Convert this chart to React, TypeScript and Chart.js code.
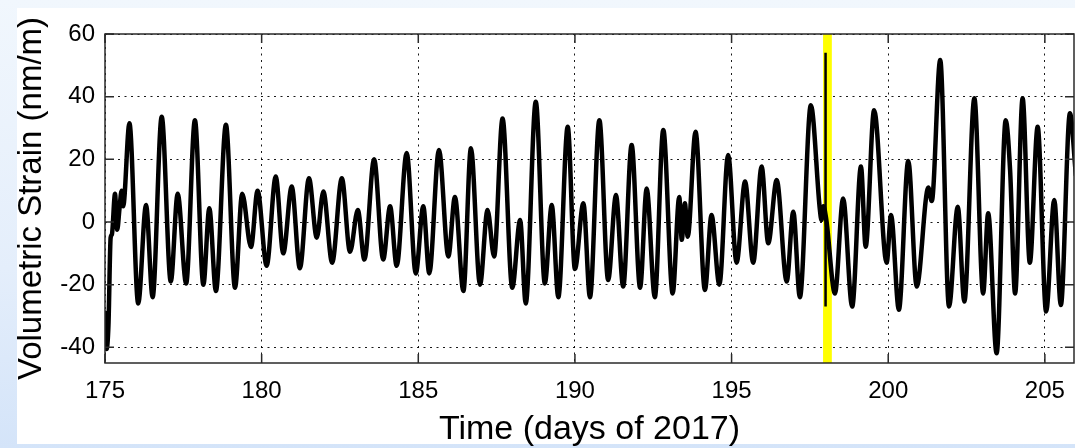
import React, { useEffect, useRef } from 'react';
import { Chart, registerables } from 'chart.js';

Chart.register(...registerables);

// ---- data ----
const days = [
  175.0, 175.05, 175.11, 175.18, 175.22, 175.32, 175.39, 175.46, 175.53, 175.58,
  175.78, 176.06, 176.31, 176.52, 176.81, 177.10, 177.32, 177.59, 177.87, 178.14,
  178.33, 178.54, 178.86, 179.15, 179.38, 179.66, 179.87, 180.16, 180.45, 180.69,
  180.96, 181.22, 181.51, 181.76, 181.97, 182.25, 182.56, 182.82, 183.07, 183.28,
  183.59, 183.88, 184.10, 184.31, 184.63, 184.92, 185.16, 185.35, 185.66, 185.96,
  186.17, 186.44, 186.68, 186.97, 187.21, 187.42, 187.69, 188.00, 188.25, 188.43,
  188.75, 189.04, 189.26, 189.47, 189.77, 190.00, 190.27, 190.48, 190.78, 191.06,
  191.31, 191.54, 191.81, 192.08, 192.29, 192.55, 192.82, 193.12, 193.33, 193.41,
  193.51, 193.60, 193.85, 194.15, 194.36, 194.61, 194.89, 195.16, 195.43, 195.69,
  195.96, 196.17, 196.44, 196.76, 196.97, 197.18, 197.53, 197.82, 197.87, 197.93,
  198.02, 198.30, 198.56, 198.85, 199.13, 199.28, 199.55, 199.95, 200.09, 200.34,
  200.64, 200.91, 201.28, 201.39, 201.66, 201.94, 202.22, 202.43, 202.75, 203.03,
  203.19, 203.46, 203.75, 203.89, 204.05, 204.29, 204.52, 204.77, 205.04, 205.30,
  205.51, 205.80, 205.99,
];

const strain = [
  -29, -40.5, -33, -5, -4, 9, -2.5, 4, 10, 5,
  31.5, -26, 5.4, -24, 33.6, -19, 9, -19.6, 32.5, -20,
  4.4, -22, 31, -21, 9, -8, 10, -14, 14.5, -10,
  11.3, -14.8, 14, -5, 9.7, -13, 14, -9.5, 3.8, -12,
  20, -12, 5, -14, 22, -16.4, 5, -16.4, 23, -11,
  8, -22, 23.5, -20, 3.8, -11, 33, -21, 0.6, -26,
  38.4, -19.6, 5.4, -24, 30.4, -15, 6, -24, 32.5, -18.5,
  8.6, -20.6, 24.6, -21, 10.7, -24, 29.4, -22.8, 8, -5.7,
  6, -4.7, 28.8, -21.7, 2.2, -20, 21.4, -13, 12.9, -13,
  17.7, -6.8, 13.4, -19, 3.3, -24, 37.3, 3.8, 0.6, 5,
  1, -22.8, 7.5, -27, 17.7, -7.9, 35.7, -13, 2.2, -28,
  19.5, -20.6, 11, 6.7, 51.7, -27, 4.9, -25.4, 39.5, -22.8,
  2.8, -41.9, 32.5, 16.6, -22.8, 39.5, -13, 30.4, -28.6, 7,
  -26.5, 34.7, 15,
];

// instrument offset spike inside the highlighted event window
const spikeDays = [198.0, 198.0];
const spikeStrain = [54, -27];

const eventWindow = [197.92, 198.2];

const xTicks = [175, 180, 185, 190, 195, 200, 205];
const yTicks = [-40, -20, 0, 20, 40, 60];
const xRange = [175, 205.93];
const yRange = [-45, 60];

const xTitle = 'Time (days of 2017)';
const yTitle = 'Volumetric Strain (nm/m)';

const FONT = "'Liberation Sans', Arial, Helvetica, sans-serif";

const axesBoxPlugin = {
  id: 'axesBox',
  beforeDatasetsDraw(chart: any) {
    const { ctx, chartArea: a, scales } = chart;
    const x = scales.x;
    const x0 = x.getPixelForValue(eventWindow[0]);
    const x1 = x.getPixelForValue(eventWindow[1]);
    ctx.save();
    ctx.fillStyle = '#ffff00';
    ctx.fillRect(x0, a.top, x1 - x0, a.bottom - a.top);
    ctx.restore();
  },
  afterDraw(chart: any) {
    const { ctx, chartArea: a, scales } = chart;
    const x = scales.x;
    const y = scales.y;
    ctx.save();
    ctx.strokeStyle = '#2a2a2a';
    ctx.lineWidth = 1.5;
    ctx.setLineDash([]);
    ctx.strokeRect(a.left, a.top, a.right - a.left, a.bottom - a.top);
    const L = 9;
    ctx.beginPath();
    xTicks.forEach((v) => {
      const px = x.getPixelForValue(v);
      ctx.moveTo(px, a.bottom);
      ctx.lineTo(px, a.bottom - L);
      ctx.moveTo(px, a.top);
      ctx.lineTo(px, a.top + L);
    });
    yTicks.forEach((v) => {
      const py = y.getPixelForValue(v);
      ctx.moveTo(a.left, py);
      ctx.lineTo(a.left + L, py);
      ctx.moveTo(a.right, py);
      ctx.lineTo(a.right - L, py);
    });
    ctx.stroke();
    ctx.restore();
  },
};

export default function App() {
  const canvasRef = useRef<HTMLCanvasElement | null>(null);

  useEffect(() => {
    const canvas = canvasRef.current;
    if (!canvas) return;
    const mainData = days.map((d, i) => ({ x: d, y: strain[i] }));
    const spikeData = spikeDays.map((d, i) => ({ x: d, y: spikeStrain[i] }));

    const chart = new Chart(canvas, {
      type: 'line',
      data: {
        datasets: [
          {
            label: 'Volumetric strain',
            data: mainData,
            borderColor: '#000000',
            borderWidth: 4.5,
            borderJoinStyle: 'round',
            borderCapStyle: 'round',
            pointRadius: 0,
            fill: false,
            cubicInterpolationMode: 'monotone',
          },
          {
            label: 'Offset',
            data: spikeData,
            borderColor: '#000000',
            borderWidth: 2.5,
            pointRadius: 0,
            fill: false,
          },
        ],
      },
      options: {
        animation: false,
        responsive: true,
        maintainAspectRatio: false,
        layout: { padding: { top: 34, right: 1, left: 0, bottom: 0 } },
        plugins: {
          legend: { display: false },
          tooltip: { enabled: false },
        },
        scales: {
          x: {
            type: 'linear',
            min: xRange[0],
            max: xRange[1],
            afterBuildTicks: (s: any) => {
              s.ticks = xTicks.map((v) => ({ value: v }));
            },
            afterFit: (s: any) => {
              s.height = 85;
              s.paddingLeft = 0;
              s.paddingRight = 0;
            },
            grid: {
              color: 'rgba(0,0,0,0.9)',
              lineWidth: 1,
              drawTicks: false,
            },
            border: { display: false, dash: [2, 4.5] },
            ticks: {
              color: '#000',
              padding: 14,
              maxRotation: 0,
              autoSkip: false,
              font: { family: FONT, size: 24 },
            },
            title: {
              display: true,
              text: xTitle,
              color: '#000',
              font: { family: FONT, size: 34, lineHeight: 1 },
              padding: { top: 0, bottom: 1.5 },
            },
          },
          y: {
            type: 'linear',
            min: yRange[0],
            max: yRange[1],
            afterBuildTicks: (s: any) => {
              s.ticks = yTicks.map((v) => ({ value: v }));
            },
            afterFit: (s: any) => {
              s.width = 105;
              s.paddingTop = 0;
              s.paddingBottom = 0;
            },
            grid: {
              color: 'rgba(0,0,0,0.9)',
              lineWidth: 1,
              drawTicks: false,
            },
            border: { display: false, dash: [2, 4.5] },
            ticks: {
              color: '#000',
              padding: 10,
              autoSkip: false,
              font: { family: FONT, size: 24 },
            },
            title: {
              display: true,
              text: yTitle,
              color: '#000',
              font: { family: FONT, size: 33, lineHeight: 1 },
              padding: { top: 15, bottom: 0 },
            },
          },
        },
      } as any,
      plugins: [axesBoxPlugin],
    });

    return () => {
      chart.destroy();
    };
  }, []);

  return (
    <div
      style={{
        position: 'fixed',
        left: 0,
        top: 0,
        width: 1075,
        height: 448,
        background: 'linear-gradient(to bottom, #f1f7fd 0%, #e4eefb 60%, #d4e4f9 100%)',
        overflow: 'hidden',
      }}
    >
      <div
        style={{
          position: 'absolute',
          left: 17,
          top: 8,
          width: 1058,
          height: 436,
          background: '#ffffff',
        }}
      />
      <div style={{ position: 'absolute', left: 0, top: 0, width: 1075, height: 448 }}>
        <canvas ref={canvasRef} />
      </div>
    </div>
  );
}
